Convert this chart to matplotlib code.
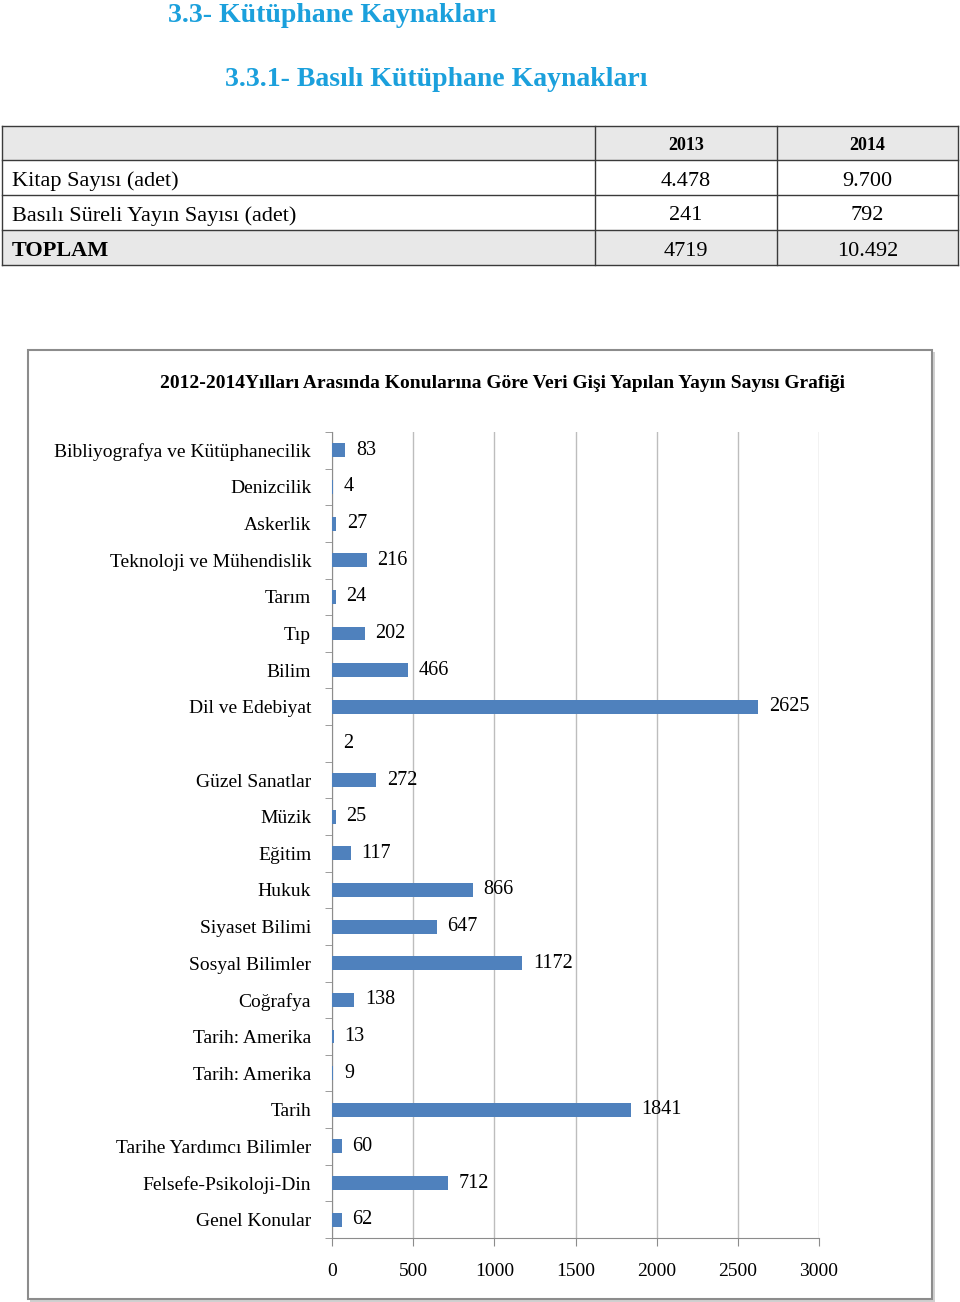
import matplotlib.pyplot as plt
from matplotlib.patches import Rectangle
import numpy as np

plt.rcParams['font.family'] = ['Liberation Serif', 'DejaVu Serif']

# heading and table data
heading1 = "3.3- Kütüphane Kaynakları"
heading2 = "3.3.1- Basılı Kütüphane Kaynakları"
table_years = ["2013", "2014"]
table_rows = ["Kitap Sayısı (adet)", "Basılı Süreli Yayın Sayısı (adet)", "TOPLAM"]
table_2013 = ["4.478", "241", "4719"]
table_2014 = ["9.700", "792", "10.492"]

# chart data (top to bottom)
chart_title = "2012-2014Yılları Arasında Konularına Göre Veri Gişi Yapılan Yayın Sayısı Grafiği"
categories = ["Bibliyografya ve Kütüphanecilik", "Denizcilik", "Askerlik",
              "Teknoloji ve Mühendislik", "Tarım", "Tıp", "Bilim", "Dil ve Edebiyat",
              "", "Güzel Sanatlar", "Müzik", "Eğitim", "Hukuk", "Siyaset Bilimi",
              "Sosyal Bilimler", "Coğrafya", "Tarih: Amerika", "Tarih: Amerika",
              "Tarih", "Tarihe Yardımcı Bilimler", "Felsefe-Psikoloji-Din", "Genel Konular"]
counts = [83, 4, 27, 216, 24, 202, 466, 2625, 2, 272, 25, 117, 866, 647,
          1172, 138, 13, 9, 1841, 60, 712, 62]
xticks = [0, 500, 1000, 1500, 2000, 2500, 3000]

W, H = 960, 1302
fig = plt.figure(figsize=(W / 100, H / 100), dpi=100)

# page overlay in pixel coordinates
page = fig.add_axes([0, 0, 1, 1], zorder=0)
page.set_xlim(0, W)
page.set_ylim(H, 0)
page.axis('off')

blue = '#1ba0dc'
page.text(168, 15, heading1, color=blue, fontsize=20, fontweight='bold',
          ha='left', va='center')
page.text(225, 79, heading2, color=blue, fontsize=20, fontweight='bold',
          ha='left', va='center')

# table
row_y = [126, 160, 195, 230, 265]
col_x = [2, 595, 777, 958]
for i in [0, 3]:
    page.add_patch(Rectangle((col_x[0], row_y[i]), col_x[-1] - col_x[0],
                             row_y[i + 1] - row_y[i], facecolor='#e8e8e8',
                             edgecolor='none'))
for y in row_y:
    page.plot([col_x[0], col_x[-1]], [y, y], color='#3a3a3a', lw=1.0)
for x in col_x:
    page.plot([x, x], [row_y[0], row_y[-1]], color='#3a3a3a', lw=1.0)

c2 = (col_x[1] + col_x[2]) / 2
c3 = (col_x[2] + col_x[3]) / 2
yc = [(row_y[i] + row_y[i + 1]) / 2 + 1 for i in range(4)]
page.text(c2, yc[0], table_years[0], fontsize=13, fontweight='bold', ha='center', va='center_baseline')
page.text(c3, yc[0], table_years[1], fontsize=13, fontweight='bold', ha='center', va='center_baseline')
for i, name in enumerate(table_rows):
    bold = 'bold' if name == "TOPLAM" else 'normal'
    page.text(12, yc[i + 1], name, fontsize=16, fontweight=bold, ha='left', va='center_baseline')
    page.text(c2, yc[i + 1], table_2013[i], fontsize=16, ha='center', va='center_baseline')
    page.text(c3, yc[i + 1], table_2014[i], fontsize=16, ha='center', va='center_baseline')

# chart frame
page.add_patch(Rectangle((30, 352), 905, 950, facecolor='#d0d0d0', edgecolor='none'))
page.add_patch(Rectangle((28, 350), 904, 949, facecolor='white', edgecolor='#8c8c8c', lw=1.5))
page.text(502, 383, chart_title, fontsize=14, fontweight='bold', ha='center', va='center')

# bar chart
ax = fig.add_axes([332 / W, 1 - 1238 / H, (819 - 332) / W, (1238 - 432) / H], zorder=1)
ax.patch.set_alpha(0)
pos = np.arange(len(categories))
ax.barh(pos, counts, height=0.38, color='#4f81bd', zorder=3)
ax.set_ylim(len(categories) - 0.5, -0.5)
ax.set_xlim(0, 3000)
ax.set_xticks(xticks)
ax.set_xticklabels([str(t) for t in xticks], fontsize=14)
ax.set_yticks(pos)
ax.set_yticklabels(categories, fontsize=14)
ax.tick_params(axis='y', length=0, pad=15)
ax.set_yticks(np.arange(len(categories) + 1) - 0.5, minor=True)
ax.tick_params(axis='y', which='minor', length=5, color='#8c8c8c', direction='out')
ax.tick_params(axis='x', length=6, color='#8c8c8c', direction='out', pad=12)
ax.grid(axis='x', color='#bdbdbd', lw=1, zorder=0)
for s in ['top', 'right']:
    ax.spines[s].set_visible(False)
for s in ['left', 'bottom']:
    ax.spines[s].set_color('#8c8c8c')
for p, v in zip(pos, counts):
    ax.text(v + 65, p, str(v), fontsize=14.5, ha='left', va='center', zorder=4)

fig.savefig('out.png', dpi=100)
